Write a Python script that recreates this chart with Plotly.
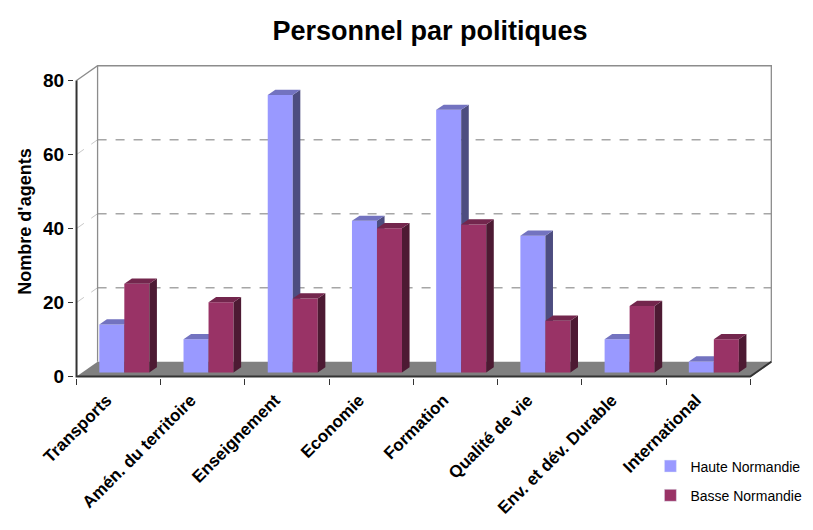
import plotly.graph_objects as go

# Data
categories = ["Transports", "Amén. du territoire", "Enseignement", "Economie",
              "Formation", "Qualité de vie", "Env. et dév. Durable", "International"]
haute = [13, 9, 75, 41, 71, 37, 9, 3]
basse = [24, 19, 20, 39, 40, 14, 18, 9]
series_names = ["Haute Normandie", "Basse Normandie"]
y_ticks = [0, 20, 40, 60, 80]
y_max = 80

# Fake 3D geometry (in axis units)
DX, DY = 0.25, 4.0          # depth of the chart box
F = 0.27                    # depth at which the bars sit
BW = 0.297                  # bar width
BDX, BDY = 0.09, 1.4        # bar depth
n = len(categories)

colors = {
    "Haute Normandie": ("#9999FF", "#7373C0", "#4D4D80"),
    "Basse Normandie": ("#993366", "#73264D", "#4D1A33"),
}
FONT = "Arial, Liberation Sans, sans-serif"


def polys(rects):
    xs, ys = [], []
    for pts in rects:
        for (px, py) in pts + [pts[0]]:
            xs.append(px)
            ys.append(py)
        xs.append(None)
        ys.append(None)
    return xs, ys


fig = go.Figure()

# floor
fx, fy = polys([[(0, 0), (n, 0), (n + DX, DY), (DX, DY)]])
fig.add_trace(go.Scatter(x=fx, y=fy, fill="toself", fillcolor="#808080",
                         mode="lines", line=dict(width=0), showlegend=False,
                         hoverinfo="skip"))

# gridlines on back wall and left wall
for v in y_ticks[1:-1]:
    fig.add_trace(go.Scatter(x=[DX, n + DX], y=[v + DY, v + DY], mode="lines",
                             line=dict(color="#A6A6A6", width=1.3, dash="dash"),
                             showlegend=False, hoverinfo="skip"))
    fig.add_trace(go.Scatter(x=[0, DX], y=[v, v + DY], mode="lines",
                             line=dict(color="#C8C8C8", width=1, dash="dash"),
                             showlegend=False, hoverinfo="skip"))

# wall frame
fig.add_trace(go.Scatter(
    x=[0, DX, n + DX, n + DX, n, None, DX, DX],
    y=[y_max, y_max + DY, y_max + DY, DY, 0, None, DY, y_max + DY],
    mode="lines", line=dict(color="#8C8C8C", width=1.3),
    showlegend=False, hoverinfo="skip"))

# bars
for s, (name, vals) in enumerate(zip(series_names, [haute, basse])):
    front_c, top_c, side_c = colors[name]
    fronts, sides, tops = [], [], []
    for i, v in enumerate(vals):
        x0 = i + 0.5 - BW + s * BW + F * DX
        x1 = x0 + BW
        b0 = F * DY
        fronts.append([(x0, b0), (x1, b0), (x1, b0 + v), (x0, b0 + v)])
        sides.append([(x1, b0), (x1 + BDX, b0 + BDY), (x1 + BDX, b0 + v + BDY), (x1, b0 + v)])
        tops.append([(x0, b0 + v), (x1, b0 + v), (x1 + BDX, b0 + v + BDY), (x0 + BDX, b0 + v + BDY)])
    for pts, c in [(fronts, front_c), (sides, side_c), (tops, top_c)]:
        px, py = polys(pts)
        fig.add_trace(go.Scatter(x=px, y=py, fill="toself", fillcolor=c,
                                 mode="lines", line=dict(width=0, color=c),
                                 showlegend=False, hoverinfo="skip"))

# axis lines
fig.add_trace(go.Scatter(x=[0, 0, n, n + DX], y=[y_max, 0, 0, DY], mode="lines",
                         line=dict(color="#333333", width=2),
                         showlegend=False, hoverinfo="skip"))

# legend entries
for name in series_names:
    fig.add_trace(go.Bar(x=[None], y=[None], name=name, legendgroup=name,
                         marker=dict(color=colors[name][0])))

fig.update_layout(
    width=813, height=530,
    margin=dict(l=74, r=40, t=65, b=152, autoexpand=False),
    paper_bgcolor="white", plot_bgcolor="white",
    font=dict(family=FONT, color="black"),
    title=dict(text="<b>Personnel par politiques</b>", x=0.529, xanchor="center",
               y=0.943, yanchor="middle", font=dict(size=27)),
    showlegend=True,
    legend=dict(x=0.80, y=0.15, xref="container", yref="container",
                xanchor="left", yanchor="top",
                font=dict(size=14), itemwidth=30, tracegroupgap=8,
                bgcolor="rgba(0,0,0,0)"),
    xaxis=dict(range=[-0.03, n + DX + 0.02], showgrid=False, zeroline=False,
               showline=False, automargin=False, tickmode="array",
               tickvals=[i + 0.5 for i in range(n)],
               ticktext=[f"<b>{c}</b>" for c in categories],
               tickangle=-45, ticks="", tickfont=dict(size=17, family=FONT),
               ticklabelstandoff=8, ticklabelshift=-12,
               minor=dict(ticks="outside", tick0=0, dtick=1, ticklen=6,
                          tickcolor="#333333", showgrid=False)),
    yaxis=dict(range=[-0.4, y_max + DY + 0.2], showgrid=False, zeroline=False,
               showline=False, automargin=False, tickmode="array",
               tickvals=y_ticks, ticktext=[f"<b>{v}</b>" for v in y_ticks],
               ticks="outside", ticklen=5, tickcolor="#333333",
               tickfont=dict(size=19, family=FONT),
               title=dict(text="<b>Nombre d'agents</b>", font=dict(size=18),
                          standoff=6)),
)

fig.write_html("out.html", config={"displayModeBar": False},
               post_script="document.body.style.margin='0';")
